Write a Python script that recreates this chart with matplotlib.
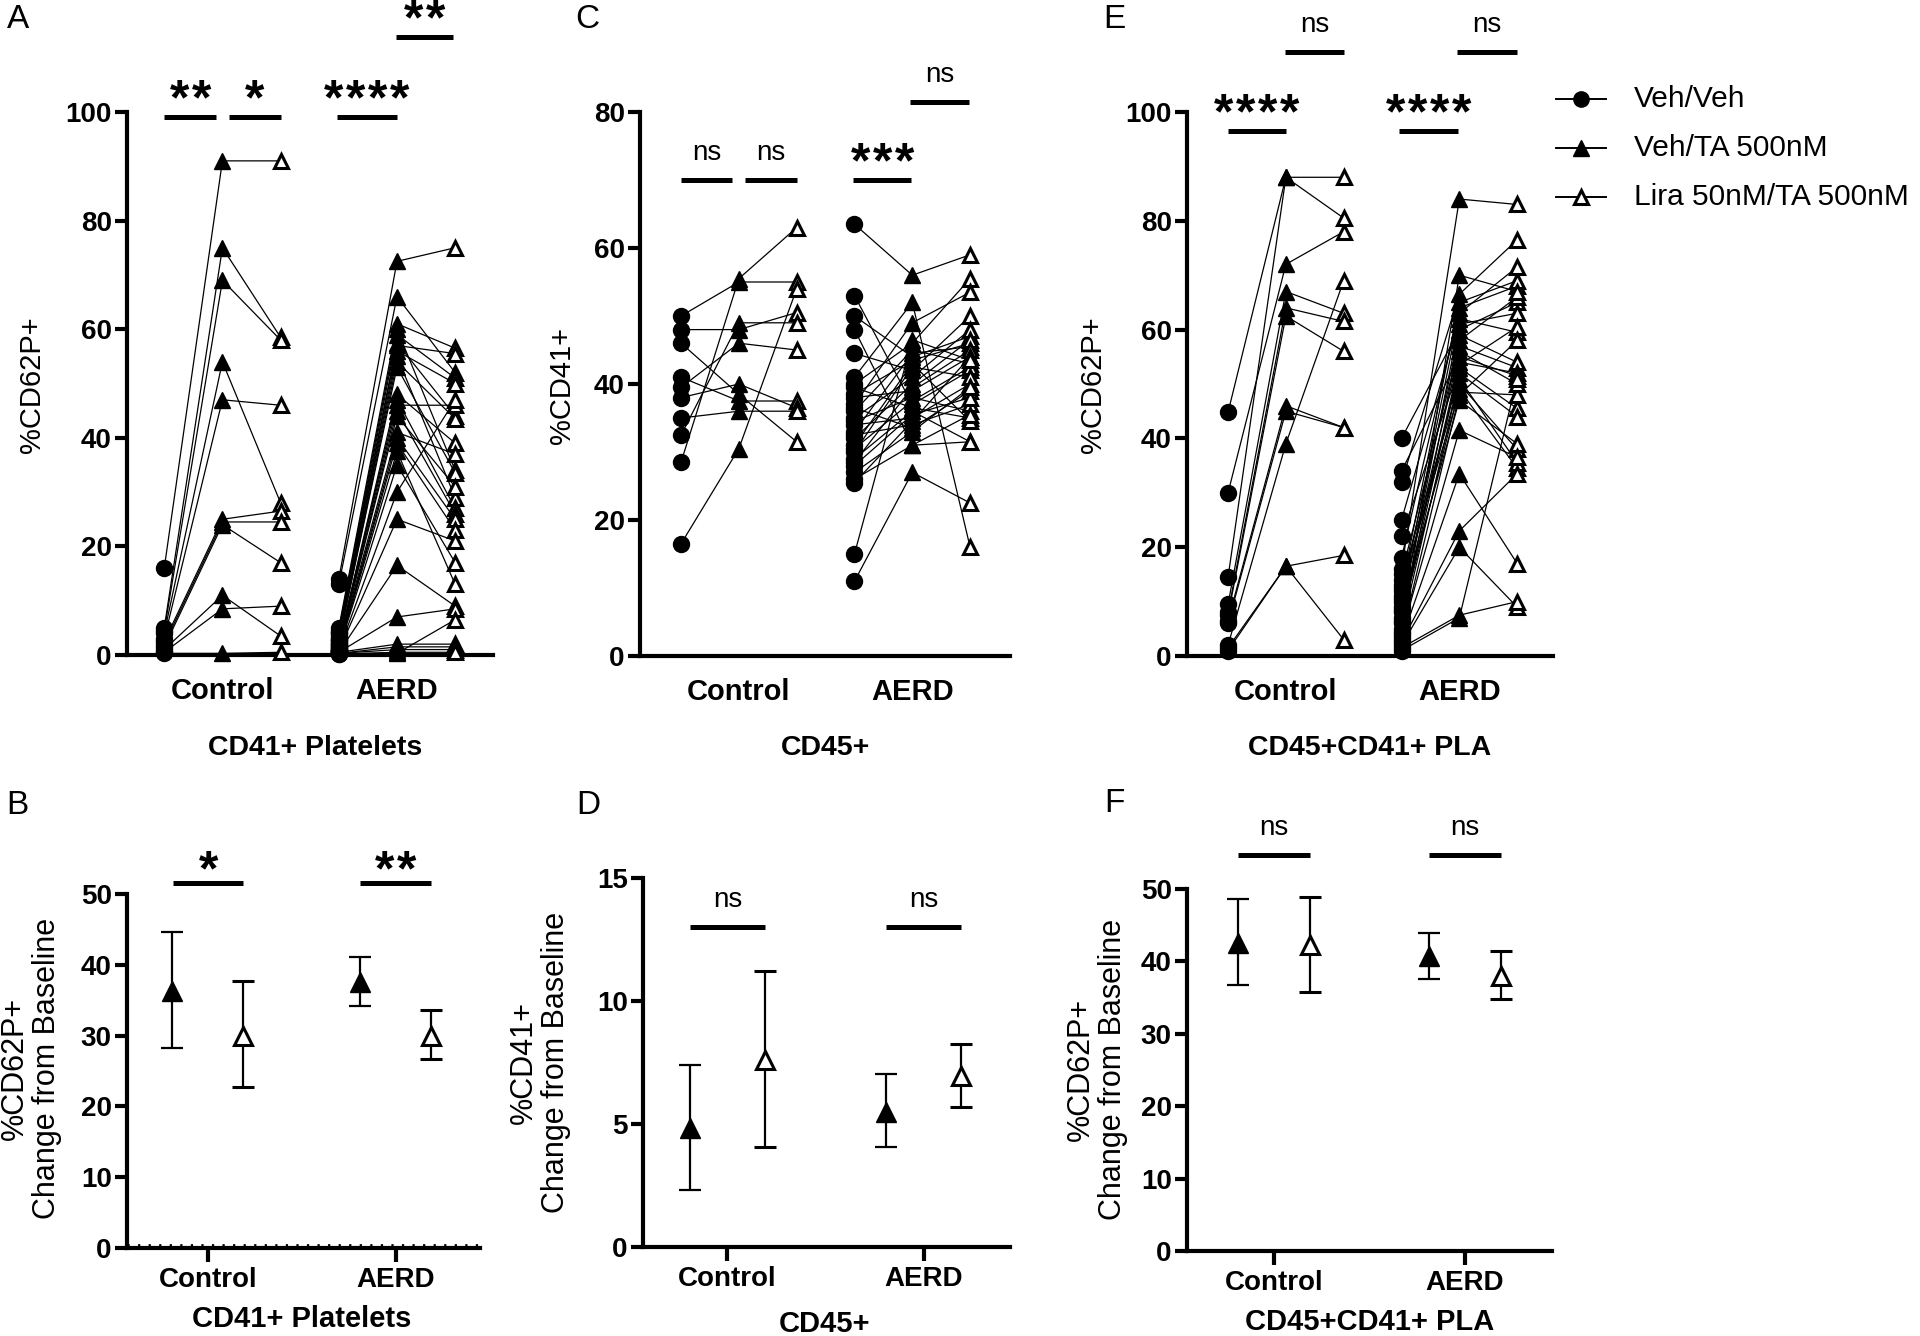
import numpy as np
import matplotlib
matplotlib.use('Agg')
import matplotlib.pyplot as plt
from matplotlib.transforms import offset_copy

plt.rcParams['font.family'] = ['Liberation Sans', 'DejaVu Sans']

# ---------------- data ----------------
groups = ['Control', 'AERD']
legend_labels = ['Veh/Veh', 'Veh/TA 500nM', 'Lira 50nM/TA 500nM']

# Panel A: %CD62P+ CD41+ platelets
a_ctrl_veh = [16, 5, 4.5, 4, 3, 2.5, 2, 1.5, 1, 0.5, 0.3]
a_ctrl_ta = [91, 75, 69, 54, 47, 25, 24.5, 24, 11, 8.5, 0.3]
a_ctrl_lira = [91, 58.5, 58, 28, 46, 26.5, 24.5, 17, 3.5, 9, 0.5]
a_aerd_veh = [14, 13, 5, 4.5, 4, 4, 3.5, 3, 3, 2.5, 2.5, 2, 2, 2, 1.5, 1.5, 1.5,
              1, 1, 1, 1, 0.8, 0.8, 0.5, 0.5, 0.5, 0.3, 0.3, 0.2, 0.2]
a_aerd_ta = [72.5, 66, 61, 60, 59, 57.5, 57, 56, 55, 54, 53, 48, 47, 46, 45, 44, 41,
             40, 39, 37.5, 35, 30, 25, 16.5, 7, 2, 1.5, 1, 0.5, 0.3]
a_aerd_lira = [75, 52, 56.5, 34, 51, 44, 55.5, 50, 29, 43.5, 33.5, 39, 27, 46, 26, 31,
               37, 25, 23, 13, 17, 47, 21, 9, 8.5, 2, 1.5, 1, 0.5, 6.5]

# Panel C: %CD41+ of CD45+
c_ctrl_veh = [50, 48, 46, 41, 39.5, 38, 35, 32.5, 28.5, 16.5]
c_ctrl_ta = [55, 48, 38.5, 37.5, 46, 40, 36, 49, 55.5, 30.5]
c_ctrl_lira = [55, 50.5, 31.5, 37.5, 45, 36.5, 36, 49, 63, 54]
c_aerd_veh = [63.5, 53, 50, 48, 44.5, 41, 40, 39.5, 38.5, 38, 37, 36.5, 36, 35, 34.5,
              34, 33, 32.5, 32, 31, 30.5, 30, 29, 28.5, 28, 27, 26, 25.5, 15, 11]
c_aerd_ta = [56, 37, 44, 31, 42, 52, 46, 36.5, 43.5, 39, 49, 33.5, 45, 41, 38, 35,
             44.5, 34, 40, 43, 37.5, 42.5, 36, 39.5, 35.5, 33, 31, 34.5, 46.5, 27]
c_aerd_lira = [59, 42, 47, 31.5, 50, 16, 55.5, 35, 46, 44, 53.5, 39, 43, 48, 36, 40,
               45.5, 37, 46.5, 34.5, 42.5, 41, 31.5, 45, 38, 39.5, 35.5, 44, 43.5, 22.5]

# Panel E: %CD62P+ CD45+CD41+ PLA
e_ctrl_veh = [44.8, 30, 14.5, 9.5, 8, 7.5, 6.5, 6, 2, 1.5, 1]
e_ctrl_ta = [88, 72, 88, 67, 64, 62.5, 46, 45, 39, 16.5, 16.5]
e_ctrl_lira = [88, 78, 80.5, 63, 61.5, 56, 42, 42, 69, 18.5, 3]
e_aerd_veh = [40, 34, 32, 25, 22, 18, 16, 15, 14, 13, 12.5, 12, 11, 10.5, 10, 9, 8.5,
              8, 7, 6.5, 6, 5, 4.5, 4, 3.5, 3, 2.5, 2, 1.5, 1]
e_aerd_ta = [60, 55, 66.5, 62, 53, 64, 84, 57, 50, 48.5, 65, 59, 52, 63, 56, 47, 61,
             54, 49, 53.5, 58, 51, 70, 41.5, 48, 33.5, 23, 20, 7.5, 7]
e_aerd_lira = [65, 51.5, 76.5, 59.5, 45.5, 68, 83, 53, 38, 48, 69, 54, 44, 71.5, 50,
               39, 63, 52, 34.5, 60.5, 66, 35.5, 67, 36.5, 58, 17, 33.5, 9, 10, 51]

# Bottom panels: change from baseline, mean with lower / upper error
b_ta_mean = [36.3, 37.6]
b_ta_lo = [28.2, 34.2]
b_ta_hi = [44.6, 41.1]
b_lira_mean = [30.0, 29.9]
b_lira_lo = [22.7, 26.7]
b_lira_hi = [37.7, 33.6]

d_ta_mean = [4.85, 5.5]
d_ta_lo = [2.3, 4.05]
d_ta_hi = [7.4, 7.05]
d_lira_mean = [7.6, 6.95]
d_lira_lo = [4.05, 5.7]
d_lira_hi = [11.2, 8.25]

f_ta_mean = [42.5, 40.7]
f_ta_lo = [36.8, 37.6]
f_ta_hi = [48.6, 43.9]
f_lira_mean = [42.2, 38.0]
f_lira_lo = [35.8, 34.8]
f_lira_hi = [48.9, 41.5]

# ---------------- figure ----------------
W, H = 1920, 1336
fig = plt.figure(figsize=(W / 100, H / 100), dpi=100)
PX = 72.0 / 100.0  # points per pixel

ov = fig.add_axes([0, 0, 1, 1])
ov.set_xlim(0, W)
ov.set_ylim(H, 0)
ov.axis('off')


def add_ax(l, r, t, b):
    return fig.add_axes([l / W, 1 - b / H, (r - l) / W, (b - t) / H])


def style(ax, yticks, bottom_ticks):
    for s in ['top', 'right']:
        ax.spines[s].set_visible(False)
    for s in ['left', 'bottom']:
        ax.spines[s].set_linewidth(3)
    ax.set_yticks(yticks)
    ax.set_yticklabels([str(v) for v in yticks], fontweight='bold', fontsize=20)
    ax.tick_params(axis='y', length=9, width=3, pad=2)
    if bottom_ticks:
        ax.set_xticks([0, 1])
        ax.set_xticklabels(groups, fontweight='bold', fontsize=20)
        ax.tick_params(axis='x', length=10, width=3, pad=4)
    else:
        ax.set_xticks([1, 4])
        ax.set_xticklabels(groups, fontweight='bold', fontsize=21)
        ax.tick_params(axis='x', length=0, pad=16)
    ax.patch.set_alpha(0)


def paired(ax, x0, veh, ta, lira):
    n = len(veh)
    for i in range(n):
        ax.plot([x0, x0 + 1, x0 + 2], [veh[i], ta[i], lira[i]], color='black',
                lw=0.9, zorder=2, clip_on=False)
    ax.plot([x0] * n, veh, 'o', ms=11.5, color='black', zorder=3, clip_on=False)
    ax.plot([x0 + 1] * n, ta, '^', ms=11.5, color='black', zorder=3, clip_on=False)
    ax.plot([x0 + 2] * n, lira, '^', ms=10.5, mfc='white', mec='black', mew=2.2,
            zorder=4, clip_on=False)


def bar(ax, x1, x2, y):
    ax.plot([x1, x2], [y, y], color='black', lw=3.6, clip_on=False,
            solid_capstyle='butt', zorder=5)


def star_bracket(ax, x1, x2, y, n, gap_px=22):
    bar(ax, x1, x2, y)
    xc = (x1 + x2) / 2
    pitch = 22 * PX
    for k in range(n):
        dx = (k - (n - 1) / 2) * pitch
        tr = offset_copy(ax.transData, fig=fig, x=dx, y=(gap_px - 19) * PX,
                         units='points')
        ax.text(xc, y, '*', transform=tr, ha='center', va='baseline',
                fontsize=36, fontweight='bold', clip_on=False)


def ns_bracket(ax, x1, x2, y, ty):
    bar(ax, x1, x2, y)
    ax.text((x1 + x2) / 2, ty, 'ns', ha='center', va='center', fontsize=20,
            clip_on=False)


def summary(ax, ta_m, ta_lo, ta_hi, li_m, li_lo, li_hi, off=0.19):
    x = np.arange(len(ta_m))
    ax.errorbar(x - off, ta_m, yerr=[np.array(ta_m) - np.array(ta_lo),
                                    np.array(ta_hi) - np.array(ta_m)],
                fmt='^', ms=14, color='black', ecolor='black', elinewidth=1.6,
                capsize=8, capthick=1.6, zorder=3)
    ax.errorbar(x + off, li_m, yerr=[np.array(li_m) - np.array(li_lo),
                                    np.array(li_hi) - np.array(li_m)],
                fmt='^', ms=13, mfc='white', mec='black', mew=2.2, color='black',
                ecolor='black', elinewidth=1.6, capsize=8, capthick=1.6, zorder=3)


# ---- Panel A ----
axA = add_ax(127, 493, 112, 655)
axA.set_xlim(-0.64, 5.65)
axA.set_ylim(0, 100)
style(axA, [0, 20, 40, 60, 80, 100], False)
paired(axA, 0, a_ctrl_veh, a_ctrl_ta, a_ctrl_lira)
paired(axA, 3, a_aerd_veh, a_aerd_ta, a_aerd_lira)
star_bracket(axA, 0, 0.89, 99.0, 2)
star_bracket(axA, 1.12, 2.0, 99.0, 1)
star_bracket(axA, 2.97, 4.0, 99.0, 4)
star_bracket(axA, 3.99, 4.96, 113.8, 2)

# ---- Panel C ----
axC = add_ax(640, 1010, 112, 656)
axC.set_xlim(-0.71, 5.69)
axC.set_ylim(0, 80)
style(axC, [0, 20, 40, 60, 80], False)
paired(axC, 0, c_ctrl_veh, c_ctrl_ta, c_ctrl_lira)
paired(axC, 3, c_aerd_veh, c_aerd_ta, c_aerd_lira)
ns_bracket(axC, 0, 0.88, 70, 74)
ns_bracket(axC, 1.1, 2.0, 70, 74)
star_bracket(axC, 2.98, 3.98, 70, 3)
ns_bracket(axC, 3.96, 4.98, 81.5, 85.5)

# ---- Panel E ----
axE = add_ax(1187, 1553, 112, 656)
axE.set_xlim(-0.71, 5.62)
axE.set_ylim(0, 100)
style(axE, [0, 20, 40, 60, 80, 100], False)
paired(axE, 0, e_ctrl_veh, e_ctrl_ta, e_ctrl_lira)
paired(axE, 3, e_aerd_veh, e_aerd_ta, e_aerd_lira)
star_bracket(axE, 0, 1.0, 96.5, 4)
ns_bracket(axE, 0.99, 2.0, 111, 116)
star_bracket(axE, 2.96, 3.98, 96.5, 4)
ns_bracket(axE, 3.96, 5.0, 111, 116)

# ---- Panel B ----
axB = add_ax(127, 480, 894, 1248)
axB.set_xlim(-0.43, 1.45)
axB.set_ylim(0, 50)
style(axB, [0, 10, 20, 30, 40, 50], True)
axB.axhline(0.45, color='black', lw=2.0, ls=(0, (0.8, 3)), zorder=4, clip_on=False)
summary(axB, b_ta_mean, b_ta_lo, b_ta_hi, b_lira_mean, b_lira_lo, b_lira_hi)
star_bracket(axB, -0.186, 0.19, 51.5, 1, gap_px=17)
star_bracket(axB, 0.81, 1.19, 51.5, 2, gap_px=17)

# ---- Panel D ----
axD = add_ax(643, 1010, 878, 1247)
axD.set_xlim(-0.43, 1.44)
axD.set_ylim(0, 15)
style(axD, [0, 5, 10, 15], True)
summary(axD, d_ta_mean, d_ta_lo, d_ta_hi, d_lira_mean, d_lira_lo, d_lira_hi)
ns_bracket(axD, -0.19, 0.19, 13.0, 14.1)
ns_bracket(axD, 0.81, 1.19, 13.0, 14.1)

# ---- Panel F ----
axF = add_ax(1187, 1552, 889, 1251)
axF.set_xlim(-0.455, 1.455)
axF.set_ylim(0, 50)
style(axF, [0, 10, 20, 30, 40, 50], True)
summary(axF, f_ta_mean, f_ta_lo, f_ta_hi, f_lira_mean, f_lira_lo, f_lira_hi)
ns_bracket(axF, -0.19, 0.19, 54.7, 58.4)
ns_bracket(axF, 0.81, 1.19, 54.7, 58.4)

# ---- labels in figure pixel space ----
for letter, (x, y) in zip('ACEBDF', [(18, 20), (587, 20), (1114, 20),
                                     (17, 805), (588, 805), (1114, 803)]):
    ov.text(x, y, letter, fontsize=24, ha='center', va='center')

ov.text(32, 385, '%CD62P+', rotation=90, ha='center', va='center', fontsize=21)
ov.text(562, 385, '%CD41+', rotation=90, ha='center', va='center', fontsize=21)
ov.text(1093, 385, '%CD62P+', rotation=90, ha='center', va='center', fontsize=21)

ov.text(315, 748, 'CD41+ Platelets', ha='center', va='center', fontsize=20.5, fontweight='bold')
ov.text(825, 748, 'CD45+', ha='center', va='center', fontsize=20.5, fontweight='bold')
ov.text(1370, 748, 'CD45+CD41+ PLA', ha='center', va='center', fontsize=20.5, fontweight='bold')

ov.text(31, 1068, '%CD62P+\nChange from Baseline', rotation=90, ha='center',
        va='center', fontsize=22, linespacing=1.1, multialignment='center')
ov.text(540, 1062, '%CD41+\nChange from Baseline', rotation=90, ha='center',
        va='center', fontsize=22, linespacing=1.1, multialignment='center')
ov.text(1097, 1069, '%CD62P+\nChange from Baseline', rotation=90, ha='center',
        va='center', fontsize=22, linespacing=1.1, multialignment='center')

ov.text(302, 1319, 'CD41+ Platelets', ha='center', va='center', fontsize=21, fontweight='bold')
ov.text(824, 1324, 'CD45+', ha='center', va='center', fontsize=21, fontweight='bold')
ov.text(1370, 1322, 'CD45+CD41+ PLA', ha='center', va='center', fontsize=21, fontweight='bold')

# ---- legend ----
leg_y = [99, 148, 197]
leg_styles = [dict(marker='o', ms=11, color='black'),
              dict(marker='^', ms=11, color='black'),
              dict(marker='^', ms=10, mfc='white', mec='black', mew=2.2, color='black')]
for yy, lab, st in zip(leg_y, legend_labels, leg_styles):
    ov.plot([1556, 1606], [yy, yy], color='black', lw=1.4)
    ov.plot([1581], [yy], linestyle='none', **st)
    ov.text(1634, yy, lab, ha='left', va='center', fontsize=21.5)

fig.savefig('out.png', dpi=100)
